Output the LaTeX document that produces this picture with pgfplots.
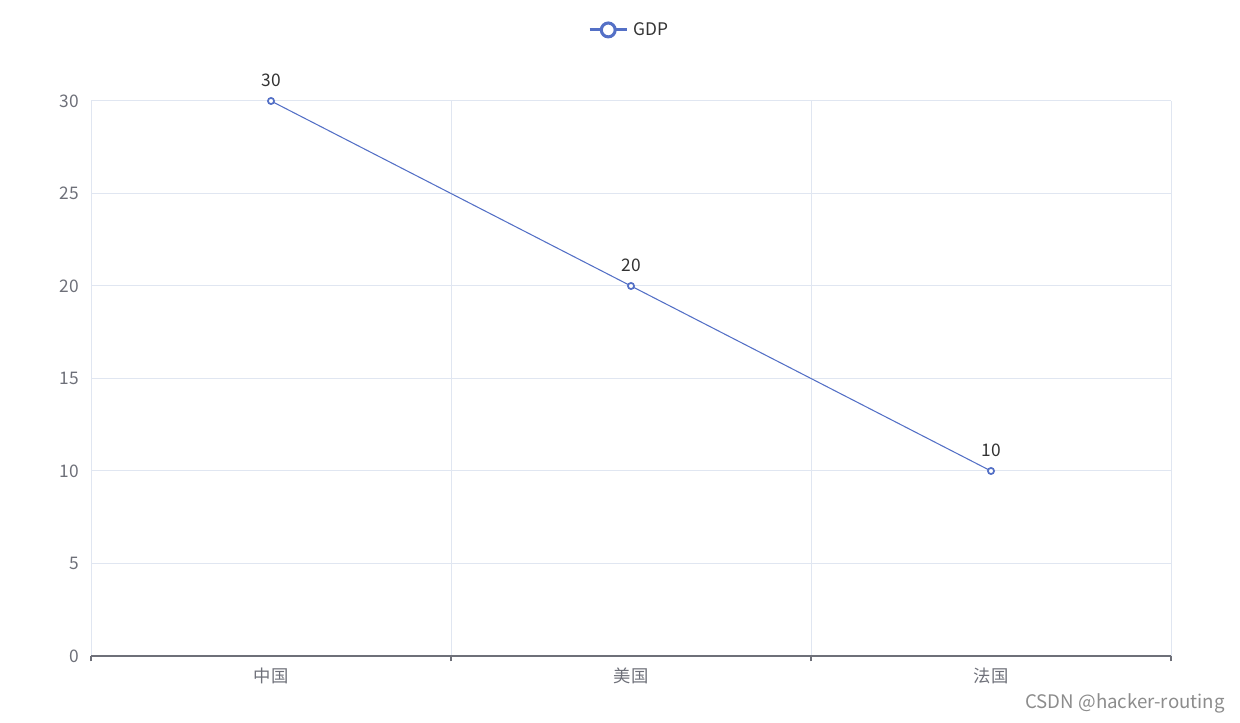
\documentclass[border=0pt]{standalone}
\usepackage{fontspec}
\setmainfont{Noto Sans CJK SC}
\usepackage{pgfplots}
\pgfplotsset{compat=1.18}
\definecolor{serie}{HTML}{5470C6}
\definecolor{axisgray}{HTML}{6E7079}
\definecolor{gridc}{HTML}{E0E6F1}
\definecolor{labc}{HTML}{333333}
\definecolor{wm}{HTML}{8C8C8C}
\begin{document}
\begin{tikzpicture}
\path[use as bounding box] (0,0) rectangle (930pt,542.25pt);
\begin{axis}[
  at={(68.25pt,50.25pt)}, anchor=south west,
  scale only axis, width=810pt, height=416.25pt,
  xmin=-0.5, xmax=2.5, ymin=0, ymax=30,
  xtick={0,1,2}, xticklabels={中国,美国,法国},
  minor xtick={-0.5,0.5,1.5,2.5},
  ytick={0,5,10,15,20,25,30},
  axis x line*=bottom, axis y line*=left,
  x axis line style={draw=axisgray, line width=0.8pt, -},
  y axis line style={draw=none},
  tick align=outside,
  major tick length=0pt, minor tick length=4pt,
  minor tick style={draw=axisgray, line width=0.8pt},
  ytick style={draw=none},
  xminorgrids, ymajorgrids, xmajorgrids=false,
  minor grid style={draw=gridc, line width=0.75pt},
  major grid style={draw=gridc, line width=0.75pt},
  /pgf/number format/assume math mode=true,
  ticklabel style={font=\fontsize{13}{15}\selectfont, text=axisgray},
  yticklabel style={inner sep=0pt, xshift=-9pt},
  xticklabel style={inner sep=0pt, yshift=-9pt},
  clip=false,
  legend style={draw=none, fill=none, at={(0.5,1.128)}, anchor=center,
    font=\fontsize{13}{15}\selectfont, text=labc,
    nodes={inner xsep=4pt}},
  legend image code/.code={
    \draw[serie, line width=2.3pt] (0pt,0pt) -- (28pt,0pt);
    \filldraw[serie, line width=2.3pt, fill=white] (14pt,0pt) circle (5.2pt);
  },
  nodes near coords,
  every node near coord/.append style={anchor=base, yshift=10.5pt, inner sep=0pt,
    font=\fontsize{13}{15}\selectfont, text=labc},
]
\addplot[serie, line width=0.8pt, mark=*, mark size=2.3pt,
  mark options={fill=white, draw=serie, line width=1.3pt}]
  coordinates {(0,30) (1,20) (2,10)};
\addlegendentry{GDP}
\end{axis}
\node[anchor=east, inner sep=0pt, text=wm, font=\fontsize{14}{16}\selectfont]
  at (918.75pt,15pt) {CSDN @hacker-routing};
\end{tikzpicture}
\end{document}
